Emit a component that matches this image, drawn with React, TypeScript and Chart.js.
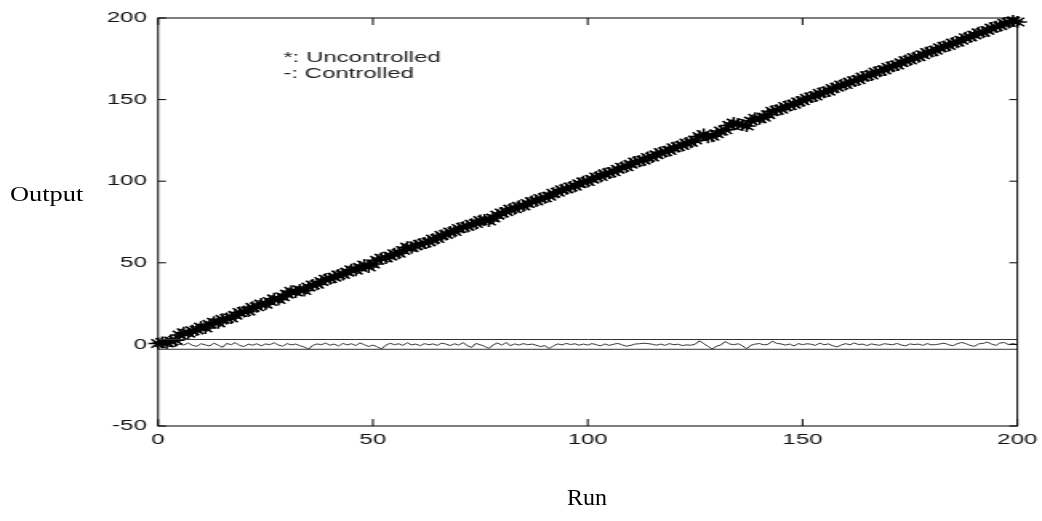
import React, { useEffect, useRef } from "react";
import { Chart, registerables } from "chart.js";

Chart.register(...registerables);

// Run index (x axis categories)
const runs: number[] = Array.from({ length: 201 }, (_, i) => i);

// "*: Uncontrolled" series
const uncontrolled: number[] = [
  0.5, 1.2, 0.8, 2.1, 2.6, 5.8, 7.2, 6.9, 8.4, 8.8,
  10.6, 10.1, 12.3, 13.6, 13.2, 15.4, 15.9, 16.2, 17.8, 19.5,
  20.1, 20.4, 22.7, 23.1, 24.8, 24.6, 26.3, 27.9, 27.5, 29.2,
  30.8, 32.6, 32.1, 33.4, 33.0, 35.2, 36.4, 36.8, 38.5, 39.9,
  40.3, 41.1, 42.6, 42.9, 44.3, 45.8, 45.5, 47.2, 48.6, 47.4,
  49.3, 51.5, 52.8, 52.9, 54.1, 55.6, 55.9, 57.5, 59.6, 59.2,
  60.4, 61.3, 62.1, 62.8, 64.5, 64.9, 66.8, 67.4, 68.9, 69.2,
  71.0, 71.8, 72.3, 73.6, 74.1, 75.9, 76.2, 75.6, 77.4, 79.2,
  80.5, 81.3, 82.9, 83.1, 84.6, 84.8, 86.3, 87.5, 87.9, 89.4,
  89.9, 90.8, 92.6, 93.2, 94.8, 95.3, 96.4, 96.9, 98.5, 99.6,
  99.8, 101.2, 102.6, 102.9, 104.5, 105.1, 105.8, 107.3, 108.6, 108.9,
  110.4, 111.8, 112.3, 112.9, 114.5, 114.8, 116.2, 117.6, 118.1, 118.8,
  120.5, 121.2, 121.9, 123.4, 123.8, 125.2, 127.4, 128.6, 126.9, 127.5,
  129.1, 130.8, 131.5, 134.2, 135.6, 135.1, 134.5, 133.8, 136.9, 138.6,
  138.3, 139.2, 140.8, 142.9, 143.5, 144.1, 145.8, 146.4, 147.1, 148.6,
  149.3, 150.8, 151.6, 152.2, 153.9, 154.5, 155.2, 156.8, 157.6, 158.9,
  159.3, 160.7, 161.5, 162.2, 163.8, 164.6, 165.1, 166.9, 167.4, 168.2,
  169.8, 170.5, 171.2, 172.6, 173.9, 174.3, 175.8, 176.2, 177.5, 178.9,
  179.4, 180.2, 181.8, 182.6, 183.1, 184.7, 185.2, 186.4, 187.9, 188.3,
  189.6, 190.9, 191.2, 192.4, 193.8, 194.6, 195.2, 196.8, 197.3, 198.1,
  197.6,
];

// "-: Controlled" series
const controlled: number[] = [
  0.5, 1.2, 0.3, -0.8, -1.5, 0.2, -0.4, 0.9, -0.6, -1.2,
  0.4, -0.3, -1.0, 0.8, -0.5, -1.8, 0.6, -0.2, 1.1, -0.7,
  -1.3, 0.2, -0.5, 0.4, -0.9, 0.3, -0.2, 1.0, -0.4, -1.1,
  0.5, -0.3, 0.2, -0.8, -1.6, -2.9, -0.6, 0.3, -0.2, 0.8,
  -0.5, 0.2, -1.0, 0.6, -0.3, 0.4, -0.7, 0.9, -0.2, -1.3,
  -0.4, -1.5, -2.8, -0.5, 0.7, -0.2, 0.4, -0.6, 1.0, -0.3,
  0.2, -0.8, 0.5, -0.2, 0.3, -0.6, 0.8, 0.2, -0.7, 0.4,
  -0.4, 1.1, -0.9, -1.8, 0.6, -0.2, -1.2, -2.5, -0.3, 0.9,
  -0.5, 1.2, -0.8, 0.3, -0.4, 0.5, -0.2, 0.2, -0.5, -1.4,
  -0.7, -2.6, -0.9, 0.3, -0.3, 0.6, -0.1, 0.4, -0.5, 0.2,
  -0.4, 0.5, -0.2, -0.9, 0.3, -0.6, 0.1, 0.6, -0.3, -1.1,
  -0.6, 0.2, 0.4, 0.7, 0.5, 0.1, -0.5, 0.2, -0.6, 0.5,
  -0.2, 0.1, -0.7, -0.3, -0.5, 0.1, 2.2, 0.5, -1.2, -2.9,
  -1.0, -0.4, 1.8, 0.3, -0.2, 0.4, -0.8, -2.7, -0.5, 0.2,
  0.5, -0.3, 0.1, 2.0, 0.6, 0.3, -0.4, 0.2, -1.0, 0.5,
  -0.2, 0.4, 0.1, -0.6, 0.8, -0.2, 0.3, -0.8, -1.5, -0.4,
  0.5, -0.3, 0.9, -0.1, 0.2, -0.7, 0.3, -0.2, -0.5, 0.4,
  0.1, -0.2, 0.6, -0.4, -0.9, 0.3, -0.1, 0.2, -0.6, 0.5,
  -0.3, -0.1, 0.3, 0.8, -0.2, -0.8, 0.4, 1.2, 0.5, -0.6,
  -1.2, 0.3, 0.6, 1.4, 0.2, -0.6, 0.9, 1.1, -0.2, 0.5,
  -0.3,
];

// Control limits
const limitRuns: number[] = [0, 200];
const upperLimit: number[] = [3, 3];
const lowerLimit: number[] = [-3, -3];

// Axis ticks
const xTicks: number[] = [0, 50, 100, 150, 200];
const yTicks: number[] = [-50, 0, 50, 100, 150, 200];

// Legend text
const legendLines: string[] = ["*: Uncontrolled", "-: Controlled"];
const xTitle = "Run";
const yTitle = "Output";

const INNER_W = 651; // canvas drawn narrow, then stretched to 1042 px wide
const H = 521;
const SANS = "'Liberation Sans', Arial, sans-serif";

const pts = (xs: number[], ys: number[]) => xs.map((x, i) => ({ x, y: ys[i] }));

const framePlugin = {
  id: "frameTicksLegend",
  afterDraw(chart: any) {
    const { ctx, chartArea: a, scales } = chart;
    ctx.save();
    ctx.strokeStyle = "#000";
    ctx.lineWidth = 1;
    ctx.strokeRect(a.left, a.top, a.right - a.left, a.bottom - a.top);
    // inward tick marks on all four sides
    ctx.beginPath();
    for (const t of scales.y.ticks) {
      const y = scales.y.getPixelForValue(t.value);
      ctx.moveTo(a.left, y);
      ctx.lineTo(a.left + 5, y);
      ctx.moveTo(a.right, y);
      ctx.lineTo(a.right - 5, y);
    }
    for (const t of scales.x.ticks) {
      const x = scales.x.getPixelForValue(t.value);
      ctx.moveTo(x, a.bottom);
      ctx.lineTo(x, a.bottom - 7);
      ctx.moveTo(x, a.top);
      ctx.lineTo(x, a.top + 7);
    }
    ctx.stroke();
    // tick labels (from the library's scales)
    ctx.fillStyle = "#111";
    ctx.font = `15px ${SANS}`;
    ctx.textAlign = "right";
    ctx.textBaseline = "middle";
    for (const t of scales.y.ticks) {
      ctx.fillText(String(t.value), a.left - 7, scales.y.getPixelForValue(t.value));
    }
    ctx.textAlign = "center";
    for (const t of scales.x.ticks) {
      ctx.fillText(String(t.value), scales.x.getPixelForValue(t.value), a.bottom + 14);
    }
    // legend text
    ctx.fillStyle = "#222";
    ctx.textAlign = "left";
    ctx.textBaseline = "alphabetic";
    legendLines.forEach((t, i) => ctx.fillText(t, 177, 62 + i * 16));
    ctx.restore();
  },
};

export default function App() {
  const ref = useRef<HTMLCanvasElement | null>(null);

  useEffect(() => {
    document.body.style.margin = "0";
    const canvas = ref.current!;
    const chart = new Chart(canvas, {
      type: "scatter",
      data: {
        datasets: [
          {
            label: "Upper",
            data: pts(limitRuns, upperLimit),
            showLine: true,
            borderColor: "#333",
            borderWidth: 1,
            pointRadius: 0,
          },
          {
            label: "Lower",
            data: pts(limitRuns, lowerLimit),
            showLine: true,
            borderColor: "#333",
            borderWidth: 1,
            pointRadius: 0,
          },
          {
            label: "Controlled",
            data: pts(runs, controlled),
            showLine: true,
            borderColor: "#000",
            borderWidth: 0.8,
            pointRadius: 0,
          },
          {
            label: "Uncontrolled",
            data: pts(runs, uncontrolled),
            showLine: false,
            pointStyle: "star",
            pointRadius: 6,
            pointBorderWidth: 1.5,
            borderColor: "#000",
            backgroundColor: "#000",
            clip: false as any,
          },
        ],
      },
      options: {
        animation: false,
        responsive: false,
        devicePixelRatio: 1,
        layout: { padding: { top: 18, right: 15.4, left: 0, bottom: 0 } },
        plugins: { legend: { display: false }, tooltip: { enabled: false } },
        scales: {
          x: {
            type: "linear",
            min: 0,
            max: 200,
            afterBuildTicks: (s: any) => {
              s.ticks = xTicks.map((v) => ({ value: v }));
            },
            ticks: { display: false },
            grid: { display: false, drawTicks: false },
            border: { display: false },
            afterFit: (s: any) => {
              s.height = 95;
            },
          },
          y: {
            type: "linear",
            min: -50,
            max: 200,
            afterBuildTicks: (s: any) => {
              s.ticks = yTicks.map((v) => ({ value: v }));
            },
            ticks: { display: false },
            grid: { display: false, drawTicks: false },
            border: { display: false },
            afterFit: (s: any) => {
              s.width = 98.75;
            },
          },
        },
      },
      plugins: [framePlugin],
    } as any);
    return () => chart.destroy();
  }, []);

  return (
    <div style={{ position: "absolute", left: 0, top: 0, width: 1042, height: H, background: "#fff" }}>
      <canvas
        ref={ref}
        width={INNER_W}
        height={H}
        style={{ position: "absolute", left: 0, top: 0, width: "1042px", height: `${H}px` }}
      />
      <div
        style={{
          position: "absolute",
          left: 10,
          top: 181,
          fontFamily: "'Liberation Serif', 'Times New Roman', serif",
          fontSize: 22,
          transform: "scaleX(1.2)",
          transformOrigin: "left top",
          whiteSpace: "nowrap",
        }}
      >
        {yTitle}
      </div>
      <div
        style={{
          position: "absolute",
          left: 567,
          top: 484,
          fontFamily: "'Liberation Serif', 'Times New Roman', serif",
          fontSize: 24,
          whiteSpace: "nowrap",
        }}
      >
        {xTitle}
      </div>
    </div>
  );
}
